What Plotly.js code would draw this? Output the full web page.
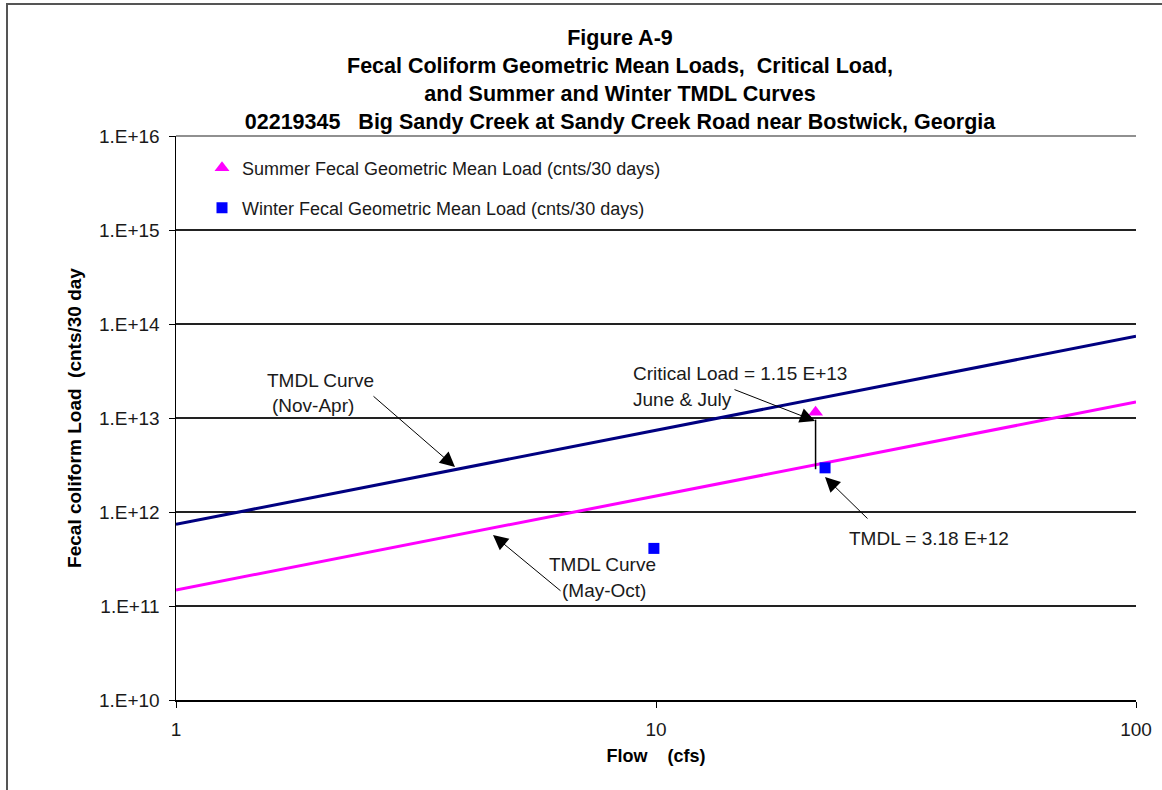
<!DOCTYPE html>
<html>
<head>
<meta charset="utf-8">
<script src="https://cdn.plot.ly/plotly-3.0.1.min.js"></script>
<style>
  html, body { margin: 0; padding: 0; background: #ffffff; }
  #chart { width: 1162px; height: 790px; }
</style>
</head>
<body>
<div id="chart"></div>
<script>
// Winter (Nov-Apr) TMDL curve: load vs flow
const winterCurveFlow = [1, 10, 100];
const winterCurveLoad = [7.4e11, 7.4e12, 7.4e13];

// Summer (May-Oct) TMDL curve: load vs flow
const summerCurveFlow = [1, 10, 100];
const summerCurveLoad = [1.48e11, 1.48e12, 1.48e13];

// Geometric mean loads (cnts/30 days)
const summerFlow = [21.5];
const summerLoad = [1.15e13];
const winterFlow = [9.9, 22.5];
const winterLoad = [4.1e11, 2.95e12];

// Critical load and TMDL at the critical flow
const criticalFlow = [21.5, 21.5];
const criticalSpan = [9.6e12, 2.85e12];

// Axis ticks
const yTickVals = [1e10, 1e11, 1e12, 1e13, 1e14, 1e15, 1e16];
const yTickText = ['1.E+10', '1.E+11', '1.E+12', '1.E+13', '1.E+14', '1.E+15', '1.E+16'];
const xTickVals = [1, 10, 100];
const xTickText = ['1', '10', '100'];

const FONT = 'Liberation Sans, Arial, sans-serif';
const INK = '#1a1a1a';

// page pixel -> paper fraction helpers (plot area 176..1136 x, 136..700 y)
const PL = 176, PW = 960, PB = 700, PH = 564;
const px = x => (x - PL) / PW;
const py = y => (PB - y) / PH;

const traces = [
  {
    x: winterCurveFlow, y: winterCurveLoad, mode: 'lines', type: 'scatter',
    line: { color: '#000080', width: 3 }, showlegend: false, hoverinfo: 'skip'
  },
  {
    x: summerCurveFlow, y: summerCurveLoad, mode: 'lines', type: 'scatter',
    line: { color: '#FF00FF', width: 3 }, showlegend: false, hoverinfo: 'skip'
  },
  {
    x: criticalFlow, y: criticalSpan, mode: 'lines', type: 'scatter',
    line: { color: '#000000', width: 1.5 }, showlegend: false, hoverinfo: 'skip'
  },
  {
    x: summerFlow, y: summerLoad, mode: 'markers', type: 'scatter',
    name: 'Summer Fecal Geometric Mean Load (cnts/30 days)',
    marker: { symbol: 'triangle-up', size: 13, color: '#FF00FF' },
    legend: 'legend'
  },
  {
    x: winterFlow, y: winterLoad, mode: 'markers', type: 'scatter',
    name: 'Winter Fecal Geometric Mean Load (cnts/30 days)',
    marker: { symbol: 'square', size: 11, color: '#0000FF' },
    legend: 'legend2'
  }
];

function label(text, x, y, xanchor) {
  return {
    xref: 'paper', yref: 'paper', x: px(x), y: py(y),
    xanchor: xanchor || 'center', yanchor: 'middle',
    text: text, showarrow: false,
    font: { family: FONT, size: 19, color: INK }
  };
}
function arrow(tipX, tipY, tailX, tailY) {
  return {
    xref: 'paper', yref: 'paper', x: px(tipX), y: py(tipY),
    ax: tailX - tipX, ay: tailY - tipY, axref: 'pixel', ayref: 'pixel',
    text: '', showarrow: true, arrowhead: 2, arrowsize: 3,
    arrowwidth: 1, arrowcolor: '#000000', standoff: 0, startstandoff: 0
  };
}

const annotations = [
  label('TMDL Curve', 320, 380),
  label('(Nov-Apr)', 313, 405),
  arrow(455, 467, 372, 395),
  label('Critical Load = 1.15 E+13', 631, 373, 'left'),
  label('June &amp; July', 631, 399, 'left'),
  arrow(815, 421, 733, 389),
  label('TMDL = 3.18 E+12', 847, 538, 'left'),
  arrow(825, 477, 869, 520),
  label('TMDL Curve', 602, 564),
  label('(May-Oct)', 604, 590),
  arrow(493, 535, 562, 592)
];

const layout = {
  width: 1162, height: 790,
  margin: { l: 176, r: 26, t: 136, b: 90 },
  paper_bgcolor: '#ffffff', plot_bgcolor: '#ffffff',
  font: { family: FONT, color: INK, size: 18 },
  title: {
    text: 'Figure A-9<br>Fecal Coliform Geometric Mean Loads,&nbsp; Critical Load,<br>and Summer and Winter TMDL Curves<br>02219345&nbsp;&nbsp; Big Sandy Creek at Sandy Creek Road near Bostwick, Georgia',
    font: { family: FONT, size: 21.5, color: '#000000', weight: 'bold' },
    xref: 'container', x: 620 / 1162, xanchor: 'center',
    yref: 'container', y: 1 - 45 / 790, yanchor: 'top'
  },
  xaxis: {
    type: 'log', range: [0, 2],
    tickvals: xTickVals, ticktext: xTickText,
    ticks: 'outside', ticklen: 6, tickcolor: '#000000', tickwidth: 1,
    ticklabelstandoff: 6,
    showline: true, linecolor: '#000000', linewidth: 1.5,
    showgrid: false, zeroline: false,
    tickfont: { family: FONT, size: 19, color: INK },
    title: {
      text: 'Flow&nbsp;&nbsp;&nbsp; (cfs)', standoff: 10,
      font: { family: FONT, size: 18, color: '#000000', weight: 'bold' }
    }
  },
  yaxis: {
    type: 'log', range: [10, 16],
    tickvals: yTickVals, ticktext: yTickText,
    ticks: 'outside', ticklen: 6, tickcolor: '#000000', tickwidth: 1,
    ticklabelstandoff: 5,
    showline: true, linecolor: '#000000', linewidth: 1.5,
    showgrid: true, gridcolor: '#222222', gridwidth: 1.2,
    zeroline: false,
    tickfont: { family: FONT, size: 19, color: INK },
    title: {
      text: 'Fecal coliform Load&nbsp; (cnts/30 day', standoff: 12,
      font: { family: FONT, size: 19, color: '#000000', weight: 'bold' }
    }
  },
  legend: {
    xref: 'paper', yref: 'paper', x: px(202), y: py(168), yanchor: 'middle', xanchor: 'left',
    bgcolor: 'rgba(0,0,0,0)', borderwidth: 0,
    font: { family: FONT, size: 18, color: INK }, itemwidth: 30
  },
  legend2: {
    xref: 'paper', yref: 'paper', x: px(202), y: py(208), yanchor: 'middle', xanchor: 'left',
    bgcolor: 'rgba(0,0,0,0)', borderwidth: 0,
    font: { family: FONT, size: 18, color: INK }, itemwidth: 30
  },
  annotations: annotations,
  shapes: [
    // gridline along the top of the plot (1.E+16)
    {
      type: 'line', xref: 'paper', yref: 'paper', x0: 0, x1: 1, y0: 1, y1: 1,
      line: { color: '#222222', width: 1.2 }
    },
    // chart frame
    {
      type: 'path', xref: 'paper', yref: 'paper',
      path: 'M ' + px(7) + ' ' + py(820) + ' L ' + px(7) + ' ' + py(4) + ' L ' + px(1200) + ' ' + py(4),
      line: { color: '#555555', width: 2 }
    }
  ]
};

Plotly.newPlot('chart', traces, layout, { displayModeBar: false, staticPlot: true });
</script>
</body>
</html>
